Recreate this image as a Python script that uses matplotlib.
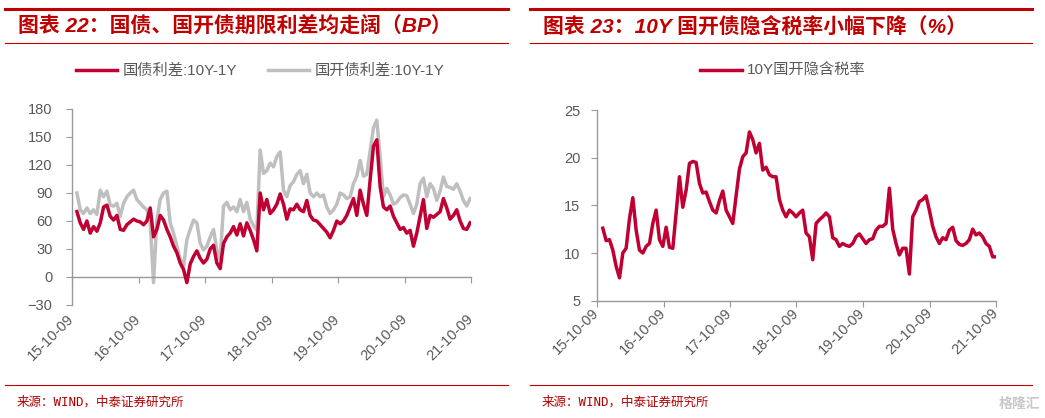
import numpy as np
import pandas as pd
import matplotlib
matplotlib.use("Agg")
import matplotlib.pyplot as plt
from matplotlib.lines import Line2D

plt.rcParams['font.family'] = ['Liberation Sans', 'Noto Sans CJK SC', 'DejaVu Sans']

# ---- data ----
tick_dates = pd.to_datetime(['2015-10-09', '2016-10-09', '2017-10-09', '2018-10-09',
                             '2019-10-09', '2020-10-09', '2021-10-09'])
tick_labels = ['15-10-09', '16-10-09', '17-10-09', '18-10-09', '19-10-09', '20-10-09', '21-10-09']

spread_dates = pd.date_range('2015-11-05', '2021-10-04', periods=119)
gz_spread = [70, 58, 51, 60, 47, 54, 49, 58, 75, 77,
             65, 61, 66, 51, 50, 56, 59, 62, 60, 59,
             56, 60, 74, 43, 51, 66, 61, 51, 43, 33,
             26, 15, 8, -6, 14, 22, 28, 20, 15, 19,
             30, 34, 15, 9, 36, 43, 47, 54, 45, 57,
             44, 58, 50, 40, 28, 90, 72, 83, 68, 72,
             78, 89, 78, 62, 73, 72, 78, 72, 70, 82,
             66, 61, 60, 56, 52, 48, 42, 50, 60, 57,
             60, 66, 75, 84, 66, 93, 78, 66, 104, 140,
             147, 97, 75, 72, 76, 65, 58, 51, 53, 47,
             50, 33, 47, 65, 83, 52, 66, 64, 67, 70,
             84, 74, 62, 66, 72, 60, 52, 51, 58]
gk_spread = [90, 72, 68, 74, 68, 72, 67, 93, 86, 92,
             77, 76, 79, 65, 79, 86, 90, 93, 83, 79,
             75, 72, 58, -6, 61, 83, 90, 92, 58, 47,
             33, 19, 11, 40, 51, 61, 58, 36, 29, 33,
             43, 51, 29, 19, 76, 80, 72, 75, 70, 83,
             70, 80, 62, 55, 50, 136, 111, 114, 122, 118,
             129, 134, 93, 86, 98, 102, 110, 114, 100, 110,
             90, 86, 90, 86, 88, 75, 68, 72, 78, 90,
             88, 84, 86, 100, 108, 125, 108, 110, 135, 160,
             168, 129, 86, 95, 88, 78, 80, 85, 88, 87,
             78, 68, 78, 100, 106, 86, 100, 95, 82, 92,
             107, 97, 96, 94, 100, 92, 82, 76, 84]

tax_dates = pd.date_range('2015-11-10', '2021-10-09', periods=119)
tax_rate = [12.6, 11.3, 11.4, 10.3, 8.6, 7.4, 10.0, 10.5, 13.6, 15.8,
            12.4, 10.3, 10.0, 10.7, 11.0, 13.1, 14.5, 11.4, 10.7, 12.7,
            10.6, 10.5, 14.2, 18.0, 14.8, 16.6, 19.4, 19.6, 19.5, 17.3,
            16.3, 16.4, 15.4, 14.5, 14.2, 15.5, 16.5, 14.5, 13.8, 13.1,
            16.0, 18.8, 20.1, 20.5, 22.7, 21.9, 20.5, 21.5, 18.7, 19.0,
            18.2, 18.0, 18.0, 15.6, 14.5, 13.8, 14.5, 14.2, 13.8, 14.2,
            14.5, 12.1, 11.7, 9.3, 13.1, 13.5, 13.8, 14.2, 13.8, 11.6,
            11.4, 10.7, 11.0, 10.8, 10.7, 11.0, 11.7, 12.0, 11.5, 11.0,
            11.4, 11.5, 12.4, 12.8, 12.8, 13.1, 16.8, 12.5, 11.0, 9.8,
            10.5, 10.5, 7.8, 13.8, 14.5, 15.4, 15.6, 16.0, 14.5, 12.8,
            11.7, 11.0, 11.6, 11.4, 12.4, 12.7, 11.3, 10.9, 10.8, 11.0,
            11.4, 12.5, 11.9, 12.1, 11.7, 11.0, 10.7, 9.6, 9.6]

RED = '#C00032'
GRAY = '#BFBFBF'
TITLE_RED = '#C00000'
TXT = '#595959'
AX = '#999999'
W, H = 1045, 418

fig = plt.figure(figsize=(W / 100, H / 100), dpi=100)


def fx(px):
    return px / W


def fy(py):
    return 1 - py / H


def header(x0, x1, title, tx):
    fig.add_artist(Line2D([fx(x0), fx(x1)], [fy(9), fy(9)], color=TITLE_RED, lw=2.2))
    fig.add_artist(Line2D([fx(x0), fx(x1)], [fy(43), fy(43)], color=TITLE_RED, lw=0.8))
    fig.add_artist(Line2D([fx(x0), fx(x1)], [fy(385), fy(385)], color=TITLE_RED, lw=0.8))
    fig.text(fx(tx), fy(27), title, color=TITLE_RED, fontsize=15, fontweight='bold',
             family=['Liberation Sans', 'Noto Sans CJK SC'], va='center', ha='left',
             style='italic')
    fig.text(fx(tx - 1), fy(402), '来源：WIND，中泰证券研究所', color='#B00000', fontsize=9,
             family=['DejaVu Sans Mono', 'Noto Sans CJK SC'], va='center', ha='left')


def style_axes(ax, ypad):
    for s in ['top', 'right']:
        ax.spines[s].set_visible(False)
    for s in ['left', 'bottom']:
        ax.spines[s].set_color(AX)
        ax.spines[s].set_linewidth(1.0)
    ax.tick_params(axis='y', colors=AX, labelcolor=TXT, labelsize=10.5, length=4, pad=ypad)
    ax.tick_params(axis='x', colors=AX, length=4, labelbottom=False)
    ax.set_xticks(tick_dates)
    ax.set_xlim(tick_dates[0], tick_dates[-1])


def date_labels(ax, yoff):
    for d, lab in zip(tick_dates, tick_labels):
        ax.text(d, yoff, lab, transform=ax.get_xaxis_transform(), rotation=45,
                rotation_mode='anchor', ha='right', va='center', fontsize=10.5, color=TXT,
                clip_on=False)


# ---- left chart ----
header(5, 508, '图表 22：国债、国开债期限利差均走阔（BP）', 18)
ax1 = fig.add_axes([fx(72), fy(305), fx(399), 196 / H])
ax1.plot(spread_dates, gk_spread, color=GRAY, lw=2.5, label='国开债利差:10Y-1Y')
ax1.plot(spread_dates, gz_spread, color=RED, lw=2.5, label='国债利差:10Y-1Y', zorder=3)
ax1.set_ylim(-30, 180)
ax1.set_yticks(np.arange(-30, 181, 30))
style_axes(ax1, 10)
ax1.spines['bottom'].set_position(('data', 0))
date_labels(ax1, -0.06)
h, l = ax1.get_legend_handles_labels()
ax1.legend(h[::-1], l[::-1], loc='center', bbox_to_anchor=(fx(260), fy(71)),
           bbox_transform=fig.transFigure, ncol=2, frameon=False, fontsize=11,
           handlelength=2.7, handletextpad=0.35, columnspacing=2.0, labelcolor=TXT)

# ---- right chart ----
header(530, 1032, '图表 23：10Y 国开债隐含税率小幅下降（%）', 543)
ax2 = fig.add_axes([fx(597), fy(300.7), fx(399), 190.7 / H])
ax2.plot(tax_dates, tax_rate, color=RED, lw=2.5, label='10Y国开隐含税率')
ax2.set_ylim(5, 25)
ax2.set_yticks([5, 10, 15, 20, 25])
style_axes(ax2, 8)
date_labels(ax2, -0.05)
ax2.legend(loc='center', bbox_to_anchor=(fx(783), fy(71)), bbox_transform=fig.transFigure,
           frameon=False, fontsize=11, handlelength=2.7, handletextpad=0.35, labelcolor=TXT)

fig.text(fx(1040), fy(404), '格隆汇', color='#C8C8C8', fontsize=10, fontweight='bold',
         family=['Noto Sans CJK SC'], ha='right', va='center')

fig.savefig('out.png', dpi=100)
